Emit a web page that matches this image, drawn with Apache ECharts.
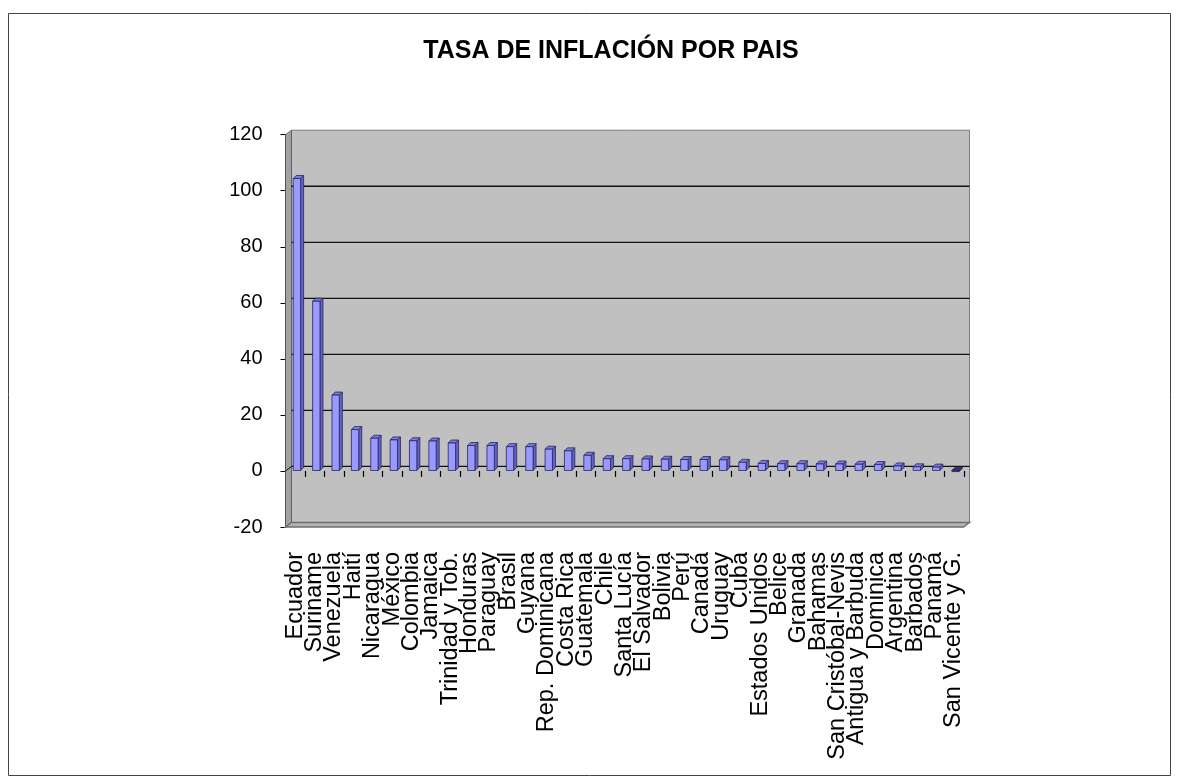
<!DOCTYPE html>
<html>
<head>
<meta charset="utf-8">
<script src="https://cdn.jsdelivr.net/npm/echarts@6/dist/echarts.min.js"></script>
<style>
html,body{margin:0;padding:0;background:#fff;}
#chart{width:1179px;height:784px;}
</style>
</head>
<body>
<div id="chart"></div>
<script>
const categories = ['Ecuador','Suriname','Venezuela','Haití','Nicaragua','México','Colombia','Jamaica','Trinidad y Tob.','Honduras','Paraguay','Brasil','Guyana','Rep. Dominicana','Costa Rica','Guatemala','Chile','Santa Lucía','El Salvador','Bolivia','Perú','Canadá','Uruguay','Cuba','Estados Unidos','Belice','Granada','Bahamas','San Cristóbal-Nevis','Antigua y Barbuda','Dominica','Argentina','Barbados','Panamá','San Vicente y G.'];
const inflation = [104.2, 60.4, 26.9, 14.6, 11.5, 10.9, 10.6, 10.5, 9.8, 8.9, 8.9, 8.5, 8.5, 7.6, 7.0, 5.4, 4.2, 4.2, 4.1, 4.0, 3.9, 3.9, 3.8, 2.9, 2.5, 2.4, 2.4, 2.3, 2.3, 2.2, 2.1, 1.6, 1.3, 1.2, -0.4];
const yTicks = [-20, 0, 20, 40, 60, 80, 100, 120];
const titleText = 'TASA DE INFLACIÓN POR PAIS';

const DX = 6, DY = -4.5;
const chart = echarts.init(document.getElementById('chart'));

function renderWalls(params, api) {
  const cs = params.coordSys;
  const x = cs.x, y = cs.y, w = cs.width, h = cs.height;
  const children = [];
  children.push({type:'rect', shape:{x:x+DX, y:y+DY, width:w, height:h}, style:{fill:'#C0C0C0', stroke:'#7a7a7a', lineWidth:1}});
  children.push({type:'polygon', shape:{points:[[x,y],[x+DX,y+DY],[x+DX,y+h+DY],[x,y+h]]}, style:{fill:'#A2A2A2', stroke:'#555', lineWidth:0.8}});
  children.push({type:'polygon', shape:{points:[[x,y+h],[x+DX,y+h+DY],[x+w+DX,y+h+DY],[x+w,y+h]]}, style:{fill:'#B4B4B4', stroke:'#6e6e6e', lineWidth:1.4}});
  yTicks.forEach(function(v){
    if (v === yTicks[0] || v === yTicks[yTicks.length-1]) return;
    const yy = api.coord([0, v])[1] + DY;
    children.push({type:'line', shape:{x1:x+DX, y1:yy, x2:x+w+DX, y2:yy}, style:{stroke:'#111', lineWidth:1.3}});
  });
  const y0 = api.coord([0, 0])[1];
  children.push({type:'line', shape:{x1:x, y1:y0, x2:x+DX, y2:y0+DY}, style:{stroke:'#111', lineWidth:1}});
  const bw = api.size([1, 0])[0];
  for (let i = 1; i <= categories.length; i++) {
    const tx = Math.round(api.coord([i - 1, 0])[0] + bw / 2) + 0.5;
    children.push({type:'line', shape:{x1:tx, y1:y0, x2:tx, y2:y0 + 6}, style:{stroke:'#000', lineWidth:1.2}});
  }
  return {type:'group', children: children};
}

function renderBar(params, api) {
  const i = api.value(0), v = api.value(1);
  const c = api.coord([i, v]);
  const b = api.coord([i, 0]);
  const bw = api.size([1, 0])[0];
  const fw = bw * 0.38;
  const d = 3;
  const left = c[0] - bw * 0.1;
  const top = Math.min(c[1], b[1]) - 0.5;
  const base = Math.max(c[1], b[1]) - 0.5;
  const neg = v < 0;
  const st = {stroke:'#26265e', lineWidth:0.8};
  return {type:'group', children:[
    {type:'polygon', shape:{points:[[left+fw,top],[left+fw+d,top-d],[left+fw+d,base-d],[left+fw,base]]}, style:Object.assign({fill:'#6464C4'}, st)},
    {type:'polygon', shape:{points:[[left,top],[left+d,top-d],[left+fw+d,top-d],[left+fw,top]]}, style:Object.assign({fill: neg ? '#2e2e70' : '#7c7cde'}, st)},
    {type:'rect', shape:{x:left, y:top, width:fw, height:base-top}, style:Object.assign({fill: neg ? '#4a4a9a' : '#9999FF'}, st)}
  ]};
}

const option = {
  animation: false,
  backgroundColor: '#fff',
  textStyle: {fontFamily: '"Liberation Sans", Arial, sans-serif'},
  title: {
    text: titleText, left: 606, top: 34, textAlign: 'center',
    textStyle: {fontFamily: '"Liberation Sans", Arial, sans-serif', fontWeight: 'bold', fontSize: 25, color: '#000'}
  },
  graphic: [{type:'rect', shape:{x:8.5, y:13.5, width:1162, height:762}, style:{fill:'none', stroke:'#444', lineWidth:1}, z:-10}],
  grid: {left: 285.5, top: 134.7, width: 678, height: 392.3, containLabel: false, outerBoundsMode: 'none'},
  xAxis: {
    type: 'category', data: categories, boundaryGap: true, position: 'bottom',
    axisLine: {show: false, onZero: false},
    axisTick: {show: false},
    axisLabel: {interval: 0, rotate: 90, margin: 25, fontSize: 23.5, color: '#000', fontFamily: '"Liberation Sans", Arial, sans-serif', hideOverlap: false},
    splitLine: {show: false}
  },
  yAxis: {
    type: 'value', min: -20, max: 120, interval: 20,
    axisLine: {show: true, onZero: false, lineStyle: {color: '#000', width: 1}},
    axisTick: {show: true, length: 5, lineStyle: {color: '#000'}},
    axisLabel: {margin: 23, fontSize: 20, color: '#000', fontFamily: '"Liberation Sans", Arial, sans-serif'},
    splitLine: {show: false}
  },
  series: [
    {type: 'custom', name: 'walls', renderItem: renderWalls, data: [[0, 0]], z: 1, silent: true, clip: false},
    {type: 'custom', name: 'Inflación', renderItem: renderBar, data: inflation.map(function(v, i){ return [i, v]; }), z: 3, clip: false}
  ]
};
chart.setOption(option);
</script>
</body>
</html>
